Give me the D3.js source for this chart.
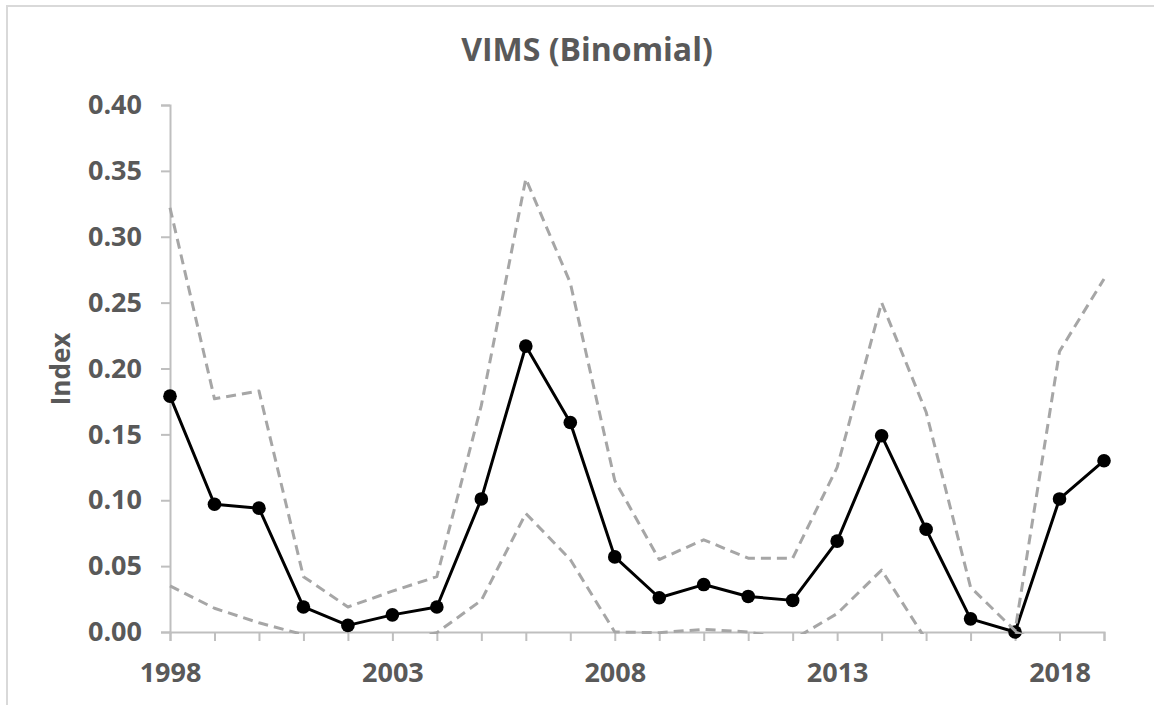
<!DOCTYPE html>
<html>
<head>
<meta charset="utf-8">
<script src="https://cdn.jsdelivr.net/npm/d3@7"></script>
<style>
  html, body { margin: 0; padding: 0; background: #ffffff; }
  svg { display: block; }
</style>
</head>
<body>
<svg id="chart" width="1154" height="705"></svg>
<script>
const years = [1998,1999,2000,2001,2002,2003,2004,2005,2006,2007,2008,2009,2010,2011,2012,2013,2014,2015,2016,2017,2018,2019];
const indexValues = [0.179,0.097,0.094,0.019,0.005,0.013,0.019,0.101,0.217,0.159,0.057,0.026,0.036,0.027,0.024,0.069,0.149,0.078,0.010,0.000,0.101,0.130];
const upperValues = [0.322,0.177,0.183,0.042,0.019,0.031,0.042,0.172,0.344,0.265,0.115,0.055,0.070,0.056,0.056,0.125,0.250,0.167,0.034,0.001,0.213,0.268];
const lowerValues = [0.035,0.018,0.007,-0.002,-0.012,-0.008,-0.0005,0.024,0.090,0.055,0.000,-0.0005,0.002,0.000,-0.006,0.014,0.047,-0.006,-0.020,0.000,-0.012,-0.008];
const yTicks = [0,0.05,0.10,0.15,0.20,0.25,0.30,0.35,0.40];
const xLabelYears = [1998,2003,2008,2013,2018];
const titleText = "VIMS (Binomial)";
const yAxisTitle = "Index";

const svg = d3.select("#chart");
const textColor = "#595959";
const axisColor = "#bfbfbf";
const font = "'Open Sans', sans-serif";

// outer chart frame
svg.append("rect")
  .attr("x", 7).attr("y", 6).attr("width", 1300).attr("height", 900)
  .attr("fill", "none").attr("stroke", "#d9d9d9").attr("stroke-width", 2);

const x = d3.scaleLinear().domain([1998, 2019]).range([170, 1104]);
const y = d3.scaleLinear().domain([0, 0.40]).range([632, 105]);

// title
svg.append("text")
  .attr("x", 587).attr("y", 61)
  .attr("text-anchor", "middle")
  .attr("font-family", font).attr("font-weight", "bold").attr("font-size", 32)
  .attr("fill", textColor)
  .text(titleText);

// y axis title
svg.append("text")
  .attr("transform", "translate(70,369) rotate(-90)")
  .attr("text-anchor", "middle")
  .attr("font-family", font).attr("font-weight", "bold").attr("font-size", 26)
  .attr("fill", textColor)
  .text(yAxisTitle);

// y axis
const yAxis = svg.append("g")
  .attr("transform", "translate(170,0)")
  .call(d3.axisLeft(y).tickValues(yTicks).tickSize(9).tickPadding(19).tickFormat(d3.format(".2f")));
yAxis.select(".domain").attr("stroke", axisColor).attr("stroke-width", 2);
yAxis.selectAll(".tick line").attr("stroke", axisColor).attr("stroke-width", 2);
yAxis.selectAll("text")
  .attr("font-family", font).attr("font-weight", "bold").attr("font-size", 27).attr("fill", textColor);

// x axis
const xAxis = svg.append("g")
  .attr("transform", "translate(0,632)")
  .call(d3.axisBottom(x).tickValues(years).tickSize(9).tickPadding(22)
    .tickFormat(d => xLabelYears.includes(d) ? String(d) : ""));
xAxis.select(".domain").attr("stroke", axisColor).attr("stroke-width", 2);
xAxis.selectAll(".tick line").attr("stroke", axisColor).attr("stroke-width", 2);
xAxis.selectAll("text")
  .attr("font-family", font).attr("font-weight", "bold").attr("font-size", 27).attr("fill", textColor);

// clip for the interval lines
svg.append("clipPath").attr("id", "plotClip")
  .append("rect").attr("x", 160).attr("y", 90).attr("width", 960).attr("height", 544);

const line = d3.line().x(d => x(d[0])).y(d => y(d[1]));

const indexData = years.map((yr, i) => [yr, indexValues[i]]);
const upperData = years.map((yr, i) => [yr, upperValues[i]]);
const lowerData = years.map((yr, i) => [yr, lowerValues[i]]);

// main series
svg.append("path")
  .datum(indexData)
  .attr("d", line)
  .attr("fill", "none").attr("stroke", "#000000").attr("stroke-width", 3)
  .attr("stroke-linejoin", "round");

svg.append("g").selectAll("circle")
  .data(indexData)
  .join("circle")
  .attr("cx", d => x(d[0])).attr("cy", d => y(d[1])).attr("r", 6.8)
  .attr("fill", "#000000");

// confidence bounds (dashed)
const boundsG = svg.append("g").attr("clip-path", "url(#plotClip)");
[upperData, lowerData].forEach(dat => {
  boundsG.append("path")
    .datum(dat)
    .attr("d", line)
    .attr("fill", "none").attr("stroke", "#a6a6a6").attr("stroke-width", 3)
    .attr("stroke-dasharray", "10,6")
    .attr("stroke-linejoin", "round");
});
</script>
</body>
</html>
